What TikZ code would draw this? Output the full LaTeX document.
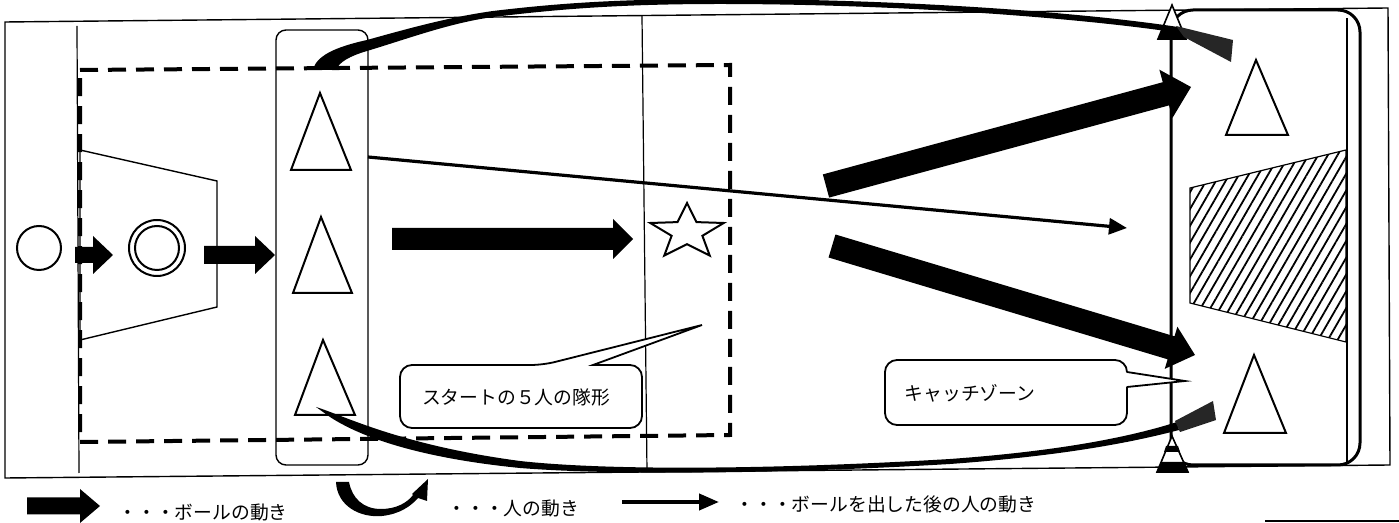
\documentclass[tikz,border=0pt]{standalone}
\usepackage{fontspec}
\newfontfamily\jpfont{Noto Sans CJK JP}
\usetikzlibrary{calc,patterns.meta,arrows.meta}
\tikzset{
  fieldln/.style={line width=0.7pt},
  thinln/.style={line width=0.6pt},
  tri/.style={draw, line width=1pt, fill=white},
  dashbox/.style={line width=2pt, dash pattern=on 9pt off 5pt},
  jtext/.style={font=\jpfont\fontsize{9.4pt}{11pt}\selectfont, inner sep=0pt},
  callout/.style={draw, line width=0.9pt, fill=white},
  passarrow/.style={line width=1.6pt, -{Triangle[length=9pt,width=8pt]}},
}
\newcommand\blockarr[5]{%
  \coordinate (ba1) at (#1); \coordinate (ba2) at (#2);
  \coordinate (bah) at ($(ba2)!#5!(ba1)$);
  \fill ($(ba1)!#3!90:(ba2)$) -- ($(bah)!#3!-90:(ba1)$) -- ($(bah)!#4!-90:(ba1)$) -- (ba2)
    -- ($(bah)!#4!90:(ba1)$) -- ($(bah)!#3!90:(ba1)$) -- ($(ba1)!#3!-90:(ba2)$) -- cycle;
}
\begin{document}
\begin{tikzpicture}[x=0.5pt,y=-0.5pt]
\useasboundingbox (0,0) rectangle (1399,523);
% field
\draw[fieldln] (5,22) -- (1388,8) -- (1390,465) -- (5,478) -- cycle;
\draw[thinln] (77,26) -- (79,473);
\draw[thinln] (642,16) -- (647,472);
\draw[thinln] (1347,18) -- (1347,463);
% dashed start area
\draw[dashbox] (80,70) -- (730,65) -- (730,435) -- (80,442) -- cycle;
% trapezoid and circles
\draw[line width=0.7pt] (80,150) -- (217,181) -- (217,307) -- (80,340) -- cycle;
\draw[line width=1pt] (39,248) circle[radius=11pt];
\draw[line width=1pt] (157,248) circle[radius=14pt];
\draw[line width=1pt] (157,248) circle[radius=11pt];
% start zone
\draw[line width=0.7pt, rounded corners=5pt] (276,30) rectangle (368,465);
\draw[tri] (320,93) -- (351,170) -- (291,170) -- cycle;
\draw[tri] (321,217) -- (352,293) -- (293,293) -- cycle;
\draw[tri] (323,340) -- (355,415) -- (295,415) -- cycle;
% catch zone
\draw[line width=1.5pt, rounded corners=11pt] (1171,10) rectangle (1360,465);
\fill[pattern={Lines[angle=60,distance=4.2pt,line width=0.9pt]}] (1190,188) -- (1346,150) -- (1346,342) -- (1190,303) -- cycle;
\draw[line width=0.6pt] (1190,188) -- (1346,150) -- (1346,342) -- (1190,303) -- cycle;
\draw[tri] (1256,60) -- (1288,135) -- (1226,135) -- cycle;
\draw[tri] (1254,355) -- (1286,433) -- (1224,433) -- cycle;
\draw[line width=1.2pt] (1171,8) -- (1171,470);
% cones
\draw[fill=white, line width=0.8pt] (1172,5) -- (1186,39) -- (1158,39) -- cycle;
\fill (1163,28) -- (1181,28) -- (1186,39) -- (1158,39) -- cycle;
\draw[fill=white, line width=0.8pt] (1172,436) -- (1188,472) -- (1157,472) -- cycle;
\fill (1161,462) -- (1184,462) -- (1188,472) -- (1157,472) -- cycle;
\fill (1166,446) -- (1178,446) -- (1180,452) -- (1164,452) -- cycle;
% star
\draw[line width=1pt] (687,203) -- (677.5,222.1) -- (650.3,223) -- (671.6,235.8) -- (664.3,255.5) -- (687,244.2) -- (709.7,255.5) -- (702.4,235.8) -- (723.7,223) -- (696.5,222.1) -- cycle;
% callouts
\draw[callout, rounded corners=6pt] (400,365) -- (543,365) [sharp corners] -- (702,325) -- (593,365) [rounded corners=6pt] -- (642,365) -- (642,428) -- (400,428) -- cycle;
\node[jtext] (c1) at (516,397) {スタートの５人の隊形};
\draw[callout, rounded corners=6pt] (885,360) rectangle (1127,425);
\fill[white] (1123,372) -- (1185,381) -- (1123,387) -- cycle;
\draw[line width=0.9pt] (1127,372) -- (1185,381) -- (1127,387);
\node[jtext] (c2) at (970,393) {キャッチゾーン};
% ball movement arrows
\blockarr{75,255}{113,255}{4pt}{9.5pt}{10pt}
\blockarr{204,255}{275,255}{4.5pt}{9.5pt}{10pt}
\blockarr{392,239}{633,239}{5.5pt}{10pt}{10pt}
\blockarr{826,186}{1191,87}{6pt}{12.5pt}{13pt}
\blockarr{832,246}{1195,355}{6pt}{11pt}{12.5pt}
% pass-and-run arrow
\coordinate (pa) at (368,157);
\coordinate (pb) at (1127,228);
\draw[passarrow] (pa) -- (pb);
% person movement curves
\fill (313,70) .. controls (316,56) and (335,47) .. (367,40) .. controls (410,28) and (450,17) .. (493,11) .. controls (560,3) and (620,-1) .. (720,-1) .. controls (900,-1) and (1080,12) .. (1178,27) -- (1180,33) .. controls (1080,18) and (900,4) .. (720,4) .. controls (620,4) and (560,9) .. (493,17) .. controls (450,23) and (410,38) .. (367,51) .. controls (350,56) and (339,62) .. (336,70) -- cycle;
\fill[black!85] (1176,26) -- (1233,40) -- (1231,62) -- (1184,37) -- cycle;
\fill (316,407) .. controls (345,416) and (400,445) .. (520,461) .. controls (620,472) and (800,468) .. (950,459) .. controls (1060,451) and (1130,437) .. (1177,422) -- (1179,430) .. controls (1130,443) and (1060,456) .. (950,464) .. controls (800,473) and (620,476) .. (520,468) .. controls (400,456) and (350,430) .. (330,417) -- cycle;
\fill[black!85] (1175,421) -- (1213,401) -- (1216,420) -- (1180,432) -- cycle;
% legend
\blockarr{27,506}{100,506}{4.25pt}{8.5pt}{10pt}
\node[jtext, anchor=west] (lg1) at (118,512) {・・・ボールの動き};
\fill (336,482) .. controls (337,506) and (360,518) .. (382,516) .. controls (400,514) and (411,506) .. (418,498) -- (427,501) -- (428,479) -- (412,494) -- (413,495) .. controls (407,503) and (396,509) .. (381,509) .. controls (363,509) and (352,498) .. (349,482) -- cycle;
\node[jtext, anchor=west] (lg2) at (447,508) {・・・人の動き};
\coordinate (la) at (622,502);
\coordinate (lb) at (719,502);
\draw[line width=2pt, -{Triangle[length=10pt,width=8pt]}] (la) -- (lb);
\node[jtext, anchor=west] (lg3) at (735,504) {・・・ボールを出した後の人の動き};
\draw[line width=1pt] (1265,521) -- (1399,521);
\end{tikzpicture}
\end{document}
